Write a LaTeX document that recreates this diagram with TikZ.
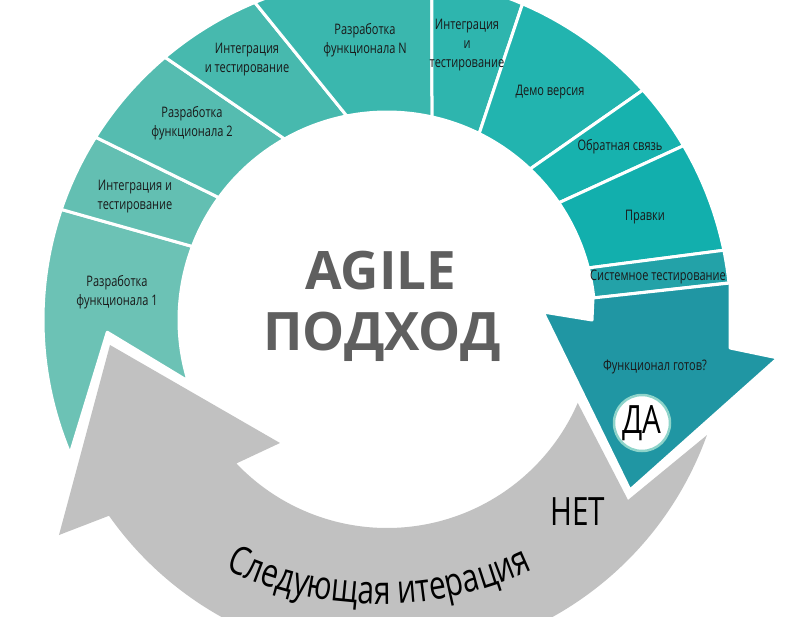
\documentclass[tikz,border=0pt]{standalone}
\usepackage{fontspec}
\setmainfont{Open Sans}
\newfontfamily\condfont[FakeStretch=0.76]{Open Sans}
\usetikzlibrary{decorations.text}
\definecolor{segA}{HTML}{6CC2B5}
\definecolor{segB}{HTML}{63BFB2}
\definecolor{segC}{HTML}{55BCB0}
\definecolor{segD}{HTML}{47B9AE}
\definecolor{segE}{HTML}{3AB7AE}
\definecolor{segF}{HTML}{2EB5AE}
\definecolor{segG}{HTML}{22B4AF}
\definecolor{segH}{HTML}{17B2AE}
\definecolor{segI}{HTML}{12AFAD}
\definecolor{segJ}{HTML}{23A2A8}
\definecolor{segK}{HTML}{2096A3}
\definecolor{arrowgray}{HTML}{C1C1C1}
\definecolor{titlegray}{HTML}{5F5F5F}
\definecolor{daring}{HTML}{8ED4CA}

\begin{document}
\begin{tikzpicture}[
    x=1pt, y=1pt,
    seg/.style={draw=white, line width=3pt, line join=round},
    lbl/.style={font=\condfont\fontsize{14.5}{19}\selectfont, align=center, text=black!90, inner sep=0pt},
    title/.style={font=\bfseries\fontsize{53}{53}\selectfont, text=titlegray, inner sep=0pt},
    answer/.style={font=\condfont\fontsize{39}{39}\selectfont, text=black, inner sep=0pt},
    dacirc/.style={circle, fill=white, draw=daring, line width=2.5pt, minimum size=56pt}
]

% рамка
\fill[white] (-387,-296) rectangle (413,320);
\useasboundingbox (-387,-296) rectangle (413,320);
\clip (-387,-296) rectangle (413,320);

% первый сегмент с выемкой
\fill[seg, fill=segA] (202.9:344) arc[start angle=202.9, end angle=161.25, radius=344]
    -- (159.3:208) arc[start angle=159.3, end angle=197.1, radius=208] -- (182.5:280) -- cycle;

% остальные сегменты кольца
\foreach \oa/\ob/\ia/\ib/\col in {
    161.25/147.9/143.95/159.3/segB,
    147.9/130.2/119.5/143.95/segC,
    130.2/112.6/101.15/119.5/segD,
    112.6/82.5/77.5/101.15/segE,
    82.5/66.8/63.7/77.5/segF,
    66.8/41.94/46.55/63.7/segG,
    41.94/30.45/34.3/46.55/segH,
    30.45/11.7/14.5/34.3/segI,
    11.7/6.2/6.1/14.5/segJ} {
    \fill[seg, fill=\col] (\oa:344) arc[start angle=\oa, end angle=\ob, radius=344]
        -- (\ia:208) arc[start angle=\ia, end angle=\ib, radius=208] -- cycle;
}

% стрелка "Функционал готов?"
\fill[seg, fill=segK] (206,22) -- (205,0) -- (156,8) -- (243,-170) -- (391,-38)
    -- (343,-28) -- (343,37) -- cycle;

% серая стрелка
\fill[arrowgray] (-23.5:208) -- (241,-180) -- (-19.8:340)
    arc[start angle=-19.8, end angle=-144.85, radius=340]
    -- (-328,-215) -- (-277,-25) -- (-107,-123) -- (-136.4:208)
    arc[start angle=-136.4, end angle=-23.5, radius=208] -- cycle;

% подписи сегментов
\node[lbl] (lblA) at (-270,28) {Разработка\\функционала 1};
\node[lbl] (lblB) at (-252,123) {Интеграция и\\тестирование};
\node[lbl] (lblC) at (-195,197) {Разработка\\функционала 2};
\node[lbl] (lblD) at (-140,260) {Интеграция\\и тестирование};
\node[lbl] (lblE) at (-22,280) {Разработка\\функционала N};
\node[lbl] (lblF) at (80,275) {Интеграция\\и\\тестирование};
\node[lbl] (lblG) at (163,228) {Демо версия};
\node[lbl] (lblH) at (233,173) {Обратная связь};
\node[lbl] (lblI) at (258,103) {Правки};
\node[lbl] (lblJ) at (271,43) {Системное тестирование};
\node[lbl] (lblK) at (268,-47) {Функционал готов?};

% центр
\node[title] (agile) at (-6,49) {AGILE};
\node[title] (podhod) at (-5,-17) {ПОДХОД};

% ответы
\node[dacirc, answer] (da) at (255,-103) {ДА};
\node[answer] (net) at (191,-192) {НЕТ};

% надпись по дуге
\path[shift={(-8,78)}, decorate, decoration={text along path, text align=center,
    text={|\condfont\fontsize{39.5}{39.5}\selectfont|Следующая итерация}}]
    (-128:362) arc[start angle=-128, end angle=-52, radius=362];

\end{tikzpicture}
\end{document}
